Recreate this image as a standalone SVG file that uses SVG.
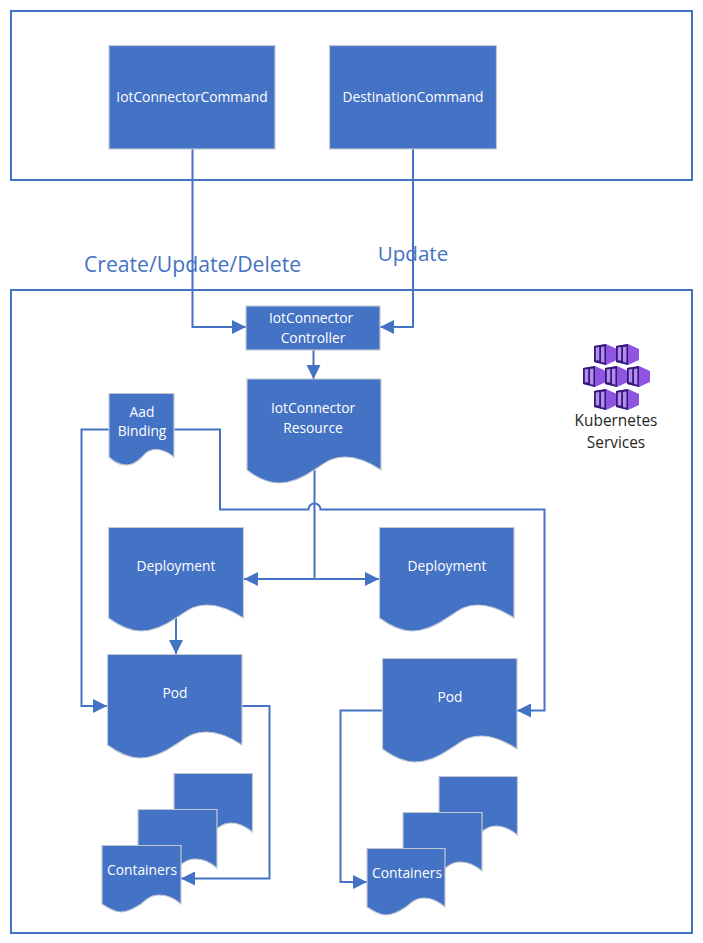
<svg xmlns="http://www.w3.org/2000/svg" width="703" height="943" viewBox="0 0 703 943">
<style>
text{font-family:"Open Sans","Noto Sans","DejaVu Sans",sans-serif;font-size:13.8px;fill:#fff;text-anchor:middle}
.frame{fill:#fff;stroke:#4472c4;stroke-width:2}
.box{fill:#4472c4;stroke:#c3c9d3;stroke-width:1.2}
.con{fill:none;stroke:#4472c4;stroke-width:2}
.lbl{fill:#4472c4;font-size:21.2px}
.lbl2{fill:#4472c4;font-size:20.6px}
.dark{fill:#262626;font-size:15.4px}
</style>
<defs>
<marker id="a" markerUnits="userSpaceOnUse" markerWidth="14" markerHeight="14" refX="14" refY="7" orient="auto-start-reverse"><path d="M0 0L14 7L0 14Z" fill="#4472c4"/></marker>
<g id="cube">
<path d="M0 2L12 0L23 5V16L12 21L0 18Z" fill="#8f55e2"/>
<path d="M0 2L12 0V21L0 18Z" fill="#341a78"/>
<path d="M1.800 3.600L5.200 3.100V16.600L1.800 16.200ZM7 2.900L10.400 2.400V18.700L7 17.900Z" fill="#b48cf0"/>
</g>
</defs>
<g id="top-frame"><rect class="frame" x="11" y="11" width="681" height="169"/></g>
<g id="cluster-frame"><rect class="frame" x="11" y="290" width="681" height="643"/></g>
<g id="connectors">
<path class="con" d="M192.500 149V327H246" marker-end="url(#a)"/>
<path class="con" d="M413 149V327H380" marker-end="url(#a)"/>
<path class="con" d="M313.500 350V379" marker-end="url(#a)"/>
<path class="con" d="M314.500 470V579"/>
<path class="con" d="M314.500 579H244" marker-end="url(#a)"/>
<path class="con" d="M314.500 579H379" marker-end="url(#a)"/>
<path class="con" d="M176 617V654" marker-end="url(#a)"/>
<path class="con" d="M109 429.500H81.500V706H107" marker-end="url(#a)"/>
<path class="con" d="M174 429.500H220V509.500H308.500A6 6 0 0 1 320.500 509.500H544.500V710.500H517" marker-end="url(#a)"/>
<path class="con" d="M242 706H269.500V878.500H181" marker-end="url(#a)"/>
<path class="con" d="M382.500 710.500H340.500V882H367" marker-end="url(#a)"/>
</g>
<g id="iot-connector-command"><rect class="box" x="109" y="45.500" width="166" height="103.500"/><text x="192" y="102">IotConnectorCommand</text></g>
<g id="destination-command"><rect class="box" x="329.500" y="45.500" width="167" height="103.500"/><text x="413" y="102">DestinationCommand</text></g>
<g id="label-create"><text class="lbl" x="192.500" y="272">Create/Update/Delete</text></g>
<g id="label-update"><text class="lbl2" x="413" y="261">Update</text></g>
<g id="controller"><rect class="box" x="246" y="306" width="134" height="44"/><text x="311" y="323">IotConnector</text><text x="313" y="343">Controller</text></g>
<g id="resource"><path class="box" d="M247 379H381V470C369 462 356 457 345 457C330 457 324 464 314 470C304 477 292 483 279 483C266 483 256 477 247 470Z"/><text x="313" y="413">IotConnector</text><text x="313" y="433">Resource</text></g>
<g id="aad-binding"><path class="box" d="M109 393.500H174V457C168 452 162 449.500 156 449.500C148 449.500 145 454 141 458C137 462 132 465 126 465C119 465 114 462 109 457Z"/><text x="142" y="417">Aad</text><text x="142" y="436">Binding</text></g>
<g id="deployment-left"><path class="box" d="M108.500 527.500H243.500V618C231 610 218 605 207 605C192 605 186 612 176 618C166 625 154 631 141 631C128 631 118 625 108.500 618Z"/><text x="176" y="571">Deployment</text></g>
<g id="deployment-right"><path class="box" d="M379.500 527.500H514V618C502 610 489 605 478 605C463 605 457 612 447 618C437 625 425 631 412 631C399 631 389 625 379.500 618Z"/><text x="447" y="571">Deployment</text></g>
<g id="pod-left"><path class="box" d="M107.500 654.500H242V745C230 737 217 732 206 732C191 732 185 739 175 745C165 752 153 758 140 758C127 758 117 752 107.500 745Z"/><text x="175" y="698">Pod</text></g>
<g id="pod-right"><path class="box" d="M382.500 658.500H517V749C505 741 492 736 481 736C466 736 460 743 450 749C440 756 428 762 415 762C402 762 392 756 382.500 749Z"/><text x="450" y="702">Pod</text></g>
<g id="containers-left">
<path class="box" d="M174 773.500H252.500V832C245 826 238 823 231 823C223 823 219 827 213 832C207 836 200 840 193 840C186 840 180 836 174 832Z"/>
<path class="box" d="M138 809.500H217V868C210 862 203 859 195 859C187 859 183 863 177 868C171 872 164 876 157 876C150 876 144 872 138 868Z"/>
<path class="box" d="M102 845.500H181V904C174 898 167 895 159 895C151 895 147 899 141 904C135 908 128 912 121 912C114 912 108 908 102 904Z"/>
<text x="142" y="875">Containers</text>
</g>
<g id="containers-right">
<path class="box" d="M439 776.500H517.500V835C510 829 503 826 496 826C488 826 484 830 478 835C472 839 465 843 458 843C451 843 445 839 439 835Z"/>
<path class="box" d="M403 812.500H482V871C475 865 468 862 460 862C452 862 448 866 442 871C436 875 429 879 422 879C415 879 409 875 403 871Z"/>
<path class="box" d="M367 848.500H445V907C438 901 431 898 424 898C416 898 412 902 406 907C400 911 393 915 386 915C379 915 373 911 367 907Z"/>
<text x="407" y="878">Containers</text>
</g>
<g id="kubernetes-services">
<use href="#cube" x="594" y="344"/><use href="#cube" x="616" y="344"/>
<use href="#cube" x="583" y="366"/><use href="#cube" x="605" y="366"/><use href="#cube" x="627" y="366"/>
<use href="#cube" x="594" y="389"/><use href="#cube" x="616" y="389"/>
<text class="dark" x="616" y="426">Kubernetes</text><text class="dark" x="616" y="448">Services</text>
</g>
</svg>
